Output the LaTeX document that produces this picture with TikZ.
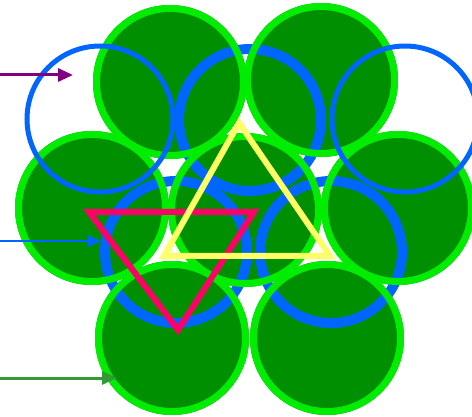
\documentclass[tikz,border=0pt]{standalone}
\usetikzlibrary{arrows.meta}
\definecolor{gfill}{RGB}{0,143,0}
\definecolor{gring}{RGB}{0,236,0}
\definecolor{bblue}{RGB}{0,102,255}
\definecolor{rred}{RGB}{255,0,102}
\definecolor{yyel}{RGB}{255,255,102}
\definecolor{ppur}{RGB}{128,0,128}
\definecolor{garrow}{RGB}{51,153,51}
\tikzset{
  gdisc/.style={fill=gfill,draw=none},
  gringstyle/.style={draw=gring,line width=7pt},
  thinblue/.style={draw=bblue,line width=5pt},
  thickblue/.style={draw=bblue,line width=10pt},
  tri/.style={line width=6pt,miter limit=10},
  pointer/.style={-{Triangle[length=15pt,width=13pt]}},
}
\begin{document}
\begin{tikzpicture}[x=1pt,y=-1pt]
\useasboundingbox (0,0) rectangle (472,417);
% green disc centres
\coordinate (g1) at (170,82);
\coordinate (g2) at (321,80);
\coordinate (g3) at (92,208);
\coordinate (g4) at (245,210);
\coordinate (g5) at (398,208);
\coordinate (g6) at (172,338);
\coordinate (g7) at (327,338);
% blue circle centres
\coordinate (bl) at (100,119);
\coordinate (br) at (405,119);
\coordinate (bt) at (250,120);
\coordinate (bbl) at (176,252);
\coordinate (bbr) at (331,252);
% fills
\foreach \c in {g1,g2,g3,g4,g5,g6,g7}
  \fill[gdisc] (\c) circle[radius=77];
% thick blue circles
\foreach \c in {bt,bbl,bbr}
  \draw[thickblue] (\c) circle[radius=71];
% green rings
\foreach \c in {g1,g2,g3,g4,g5,g6,g7}
  \draw[gringstyle] (\c) circle[radius=73.5];
% thin blue circles
\foreach \c in {bl,br}
  \draw[thinblue] (\c) circle[radius=73];
% triangles
\coordinate (r1) at (89,212);
\coordinate (r2) at (254,212);
\coordinate (r3) at (178,330);
\draw[tri,draw=rred] (r1) -- (r2) -- (r3) -- cycle;
\coordinate (y1) at (239,123);
\coordinate (y2) at (164,256);
\coordinate (y3) at (330,256);
\draw[tri,draw=yyel] (y1) -- (y2) -- (y3) -- cycle;
% arrows
\coordinate (pa0) at (0,75);
\coordinate (pa1) at (73,75);
\draw[pointer,draw=ppur,fill=ppur,line width=3pt] (pa0) -- (pa1);
\coordinate (ba0) at (0,241);
\coordinate (ba1) at (101,241);
\draw[-{Triangle[length=13pt,width=11pt]},draw=bblue,fill=bblue,line width=2pt] (ba0) -- (ba1);
\coordinate (ga0) at (0,378);
\coordinate (ga1) at (117,378);
\draw[pointer,draw=garrow,fill=garrow,line width=3pt] (ga0) -- (ga1);
\end{tikzpicture}
\end{document}
